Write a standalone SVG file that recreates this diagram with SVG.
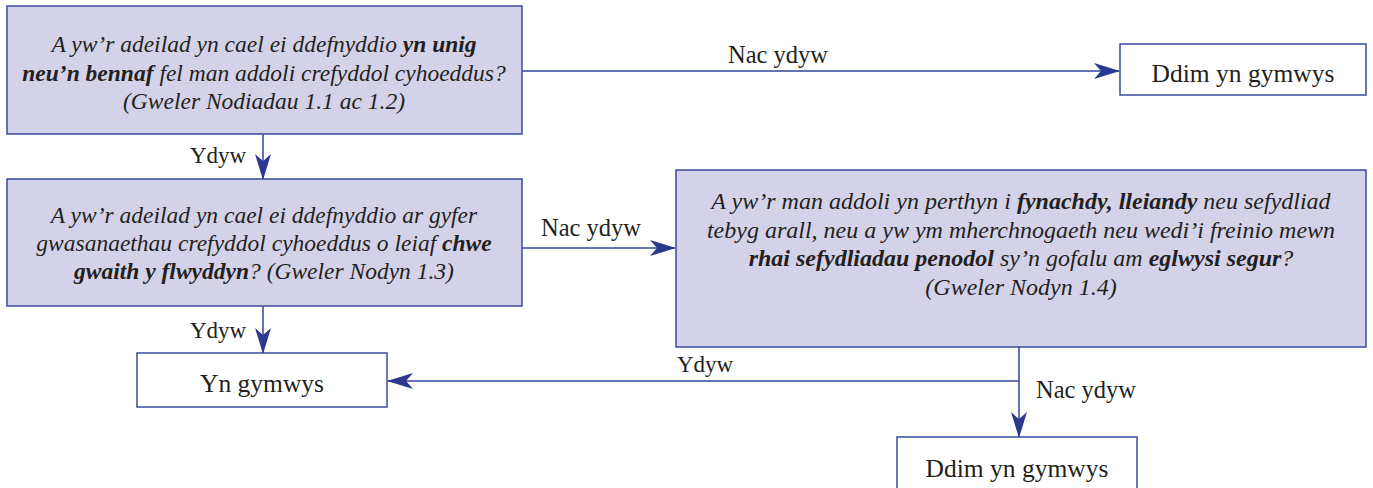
<svg xmlns="http://www.w3.org/2000/svg" width="1373" height="488" viewBox="0 0 1373 488">
<defs>
<style>
.q{fill:#d4d2e8;stroke:#3b4a9c;stroke-width:1.5}
.r{fill:#ffffff;stroke:#3b4a9c;stroke-width:1.5}
.c{fill:none;stroke:#33449a;stroke-width:1.5}
text{font-family:'Liberation Serif','Times New Roman',serif;fill:#231f20}
.t{font-style:italic;font-size:23.5px;text-anchor:middle}
.t3{font-style:italic;font-size:24px;text-anchor:middle}
.b{font-weight:bold}
.l{font-size:23px}
.n{font-size:24.5px}
.o{font-size:25.5px;text-anchor:middle}
</style>
<marker id="ah" markerUnits="userSpaceOnUse" markerWidth="26" markerHeight="16" viewBox="0 0 26 16" refX="25" refY="8" orient="auto">
<path d="M0,0 L26,8 L0,16 L7,8 Z" fill="#2b3990"/>
</marker>
</defs>
<g id="connectors">
<line class="c" x1="522" y1="71" x2="1119" y2="71" marker-end="url(#ah)"/>
<line class="c" x1="263" y1="134" x2="263" y2="179" marker-end="url(#ah)"/>
<line class="c" x1="522" y1="248" x2="675" y2="248" marker-end="url(#ah)"/>
<line class="c" x1="263" y1="306" x2="263" y2="353" marker-end="url(#ah)"/>
<line class="c" x1="1019" y1="347" x2="1019" y2="437" marker-end="url(#ah)"/>
<line class="c" x1="1019" y1="381" x2="388" y2="381" marker-end="url(#ah)"/>
<text class="n" x="728" y="63">Nac ydyw</text>
<text class="l" x="190" y="163">Ydyw</text>
<text class="n" x="541" y="236">Nac ydyw</text>
<text class="l" x="190" y="338">Ydyw</text>
<text class="l" x="677" y="372">Ydyw</text>
<text class="n" x="1036" y="398">Nac ydyw</text>
</g>
<g id="q1">
<rect class="q" x="7" y="6" width="515" height="128"/>
<text class="t" x="264" y="52">A yw’r adeilad yn cael ei ddefnyddio <tspan class="b">yn unig</tspan></text>
<text class="t" x="264" y="81"><tspan class="b">neu’n bennaf</tspan> fel man addoli crefyddol cyhoeddus?</text>
<text class="t" x="264" y="109">(Gweler Nodiadau 1.1 ac 1.2)</text>
</g>
<g id="r1">
<rect class="r" x="1120" y="44" width="246" height="51"/>
<text class="o" x="1243" y="82">Ddim yn gymwys</text>
</g>
<g id="q2">
<rect class="q" x="7" y="179" width="515" height="127"/>
<text class="t" x="264" y="223">A yw’r adeilad yn cael ei ddefnyddio ar gyfer</text>
<text class="t" x="264" y="251">gwasanaethau crefyddol cyhoeddus o leiaf <tspan class="b">chwe</tspan></text>
<text class="t" x="264" y="279"><tspan class="b">gwaith y flwyddyn</tspan>? (Gweler Nodyn 1.3)</text>
</g>
<g id="q3">
<rect class="q" x="676" y="170" width="690" height="177"/>
<text class="t3" x="1021" y="209">A yw’r man addoli yn perthyn i <tspan class="b">fynachdy, lleiandy</tspan> neu sefydliad</text>
<text class="t3" x="1021" y="238">tebyg arall, neu a yw ym mherchnogaeth neu wedi’i freinio mewn</text>
<text class="t3" x="1021" y="266"><tspan class="b">rhai sefydliadau penodol</tspan> sy’n gofalu am <tspan class="b">eglwysi segur</tspan>?</text>
<text class="t3" x="1021" y="295">(Gweler Nodyn 1.4)</text>
</g>
<g id="r2">
<rect class="r" x="137" y="353" width="250" height="54"/>
<text class="o" x="262" y="392">Yn gymwys</text>
</g>
<g id="r3">
<rect class="r" x="897" y="437" width="240" height="60"/>
<text class="o" x="1017" y="477">Ddim yn gymwys</text>
</g>
</svg>
